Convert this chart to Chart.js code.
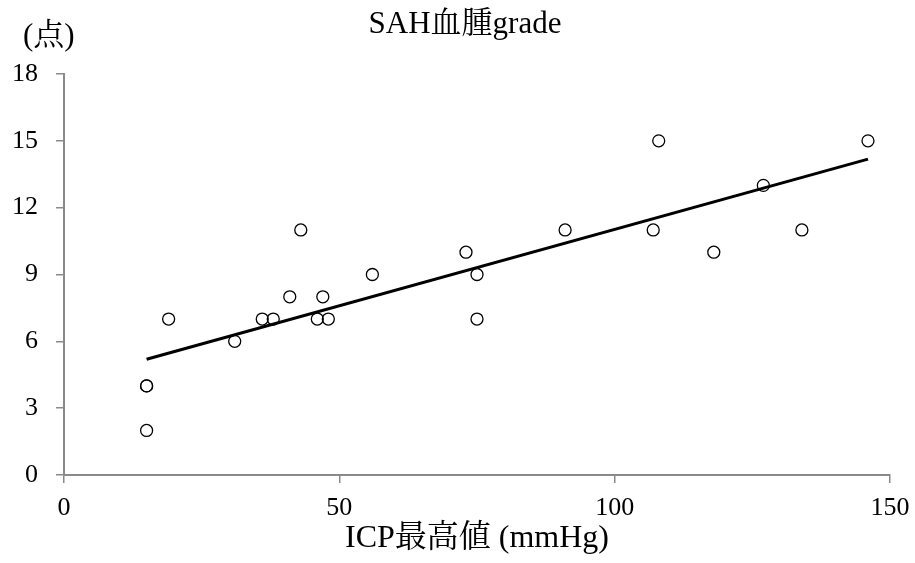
<!DOCTYPE html>
<html>
<head>
<meta charset="utf-8">
<script src="https://cdn.jsdelivr.net/npm/chart.js@4/dist/chart.umd.min.js"></script>
<style>
  html, body { margin: 0; padding: 0; background: #fff; }
  #wrap { width: 915px; height: 563px; }
</style>
</head>
<body>
<div id="wrap"><canvas id="chart"></canvas></div>
<script>
// ICP最高値 (mmHg) vs SAH血腫grade
const icpMax = [15, 15, 15, 19, 31, 36, 38, 41, 43, 46, 47, 48, 56, 73, 75, 75, 91, 107, 108, 118, 127, 134, 146]
const sahGrade = [4, 4, 2, 7, 6, 7, 7, 8, 11, 7, 8, 7, 9, 10, 9, 7, 11, 11, 15, 10, 13, 11, 15]

const xTicks = [0, 50, 100, 150]
const yTicks = [0, 3, 6, 9, 12, 15, 18]

const titleText = 'SAH血腫grade'
const xTitle = 'ICP最高値 (mmHg)'
const yUnit = '(点)'

const serif = "'Liberation Serif', 'Times New Roman', 'Noto Serif CJK JP', 'Noto Sans CJK JP', serif"
const axisGray = '#8a8a8a'

// least squares fit for the trend line
function linearFit(xs, ys) {
  const n = xs.length
  const mx = xs.reduce((a, b) => a + b, 0) / n
  const my = ys.reduce((a, b) => a + b, 0) / n
  let sxy = 0, sxx = 0
  for (let i = 0; i < n; i++) {
    sxy += (xs[i] - mx) * (ys[i] - my)
    sxx += (xs[i] - mx) * (xs[i] - mx)
  }
  const slope = sxy / sxx
  return { slope, intercept: my - slope * mx }
}

const fit = linearFit(icpMax, sahGrade)
const xMin = Math.min(...icpMax)
const xMax = Math.max(...icpMax)
const trend = [xMin, xMax].map((x) => ({ x, y: fit.intercept + fit.slope * x }))

// chart title and the "(点)" unit above the y axis
const headerText = {
  id: 'headerText',
  afterDraw(chart) {
    const ctx = chart.ctx
    ctx.save()
    ctx.fillStyle = '#000'
    ctx.textBaseline = 'alphabetic'
    ctx.font = '31px ' + serif
    ctx.textAlign = 'center'
    ctx.fillText(titleText, 465, 33)
    ctx.textAlign = 'left'
    ctx.fillText(yUnit, 23, 45)
    ctx.restore()
  }
}

const chartConfig = {
  type: 'scatter',
  data: {
    datasets: [
      {
        type: 'line',
        data: trend,
        borderColor: '#000',
        borderWidth: 3,
        pointRadius: 0,
        fill: false,
        order: 0,
      },
      {
        data: icpMax.map((x, i) => ({ x, y: sahGrade[i] })),
        borderColor: '#000',
        backgroundColor: 'rgba(255,255,255,0)',
        borderWidth: 1.3,
        pointRadius: 6,
        order: 1,
      },
    ]
  },
  options: {
    responsive: true,
    maintainAspectRatio: false,
    animation: false,
    layout: { padding: { left: 0, right: 25, top: 74, bottom: 0 } },
    plugins: {
      legend: { display: false },
      tooltip: { enabled: false },
      title: { display: false },
    },
    scales: {
      x: {
        type: 'linear',
        min: 0,
        max: 150,
        afterBuildTicks: (axis) => { axis.ticks = xTicks.map((v) => ({ value: v })) },
        afterFit: (axis) => {
          axis.height = 88
          axis.paddingRight = 0
        },
        grid: { drawOnChartArea: false, drawTicks: true, tickLength: 8, color: axisGray, lineWidth: 1.5 },
        border: { color: axisGray, width: 2 },
        ticks: { color: '#000', padding: 10, font: { family: serif, size: 26 } },
        title: {
          display: true,
          text: xTitle,
          color: '#000',
          font: { family: serif, size: 32, lineHeight: 1.2 },
          padding: { top: 0, bottom: 5 },
        },
      },
      y: {
        type: 'linear',
        min: 0,
        max: 18,
        afterBuildTicks: (axis) => { axis.ticks = yTicks.map((v) => ({ value: v })) },
        afterFit: (axis) => { axis.width = 64 },
        grid: { drawOnChartArea: false, drawTicks: true, tickLength: 8, color: axisGray, lineWidth: 1.5 },
        border: { color: axisGray, width: 2 },
        ticks: { color: '#000', padding: 18, font: { family: serif, size: 26 } },
      }
    }
  },
  plugins: [headerText],
}

new Chart(document.getElementById('chart').getContext('2d'), chartConfig)
</script>
</body>
</html>
